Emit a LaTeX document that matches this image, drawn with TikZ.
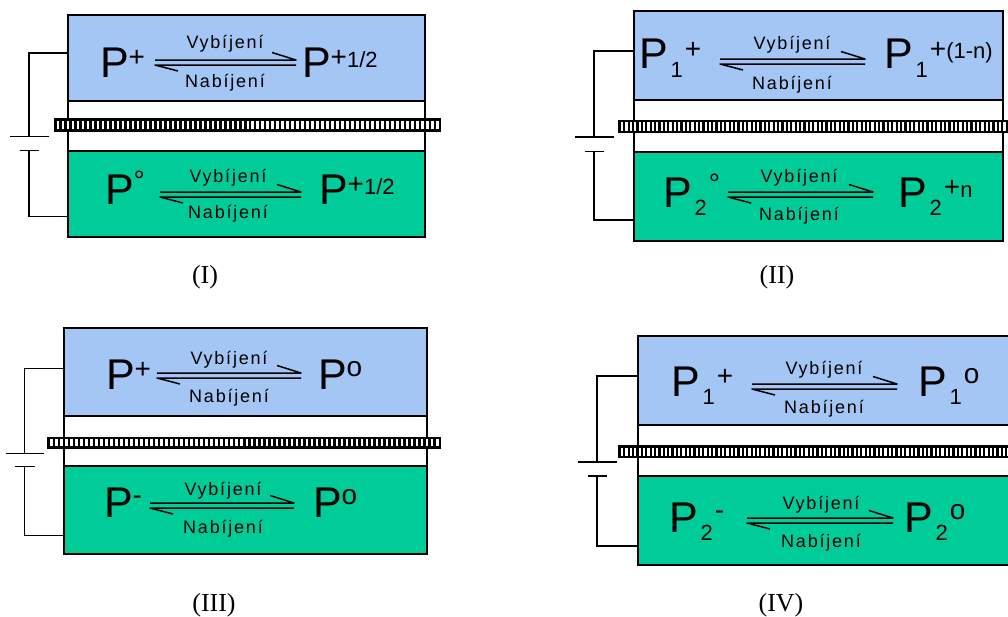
\documentclass[tikz,border=0pt]{standalone}
\usepackage{fontspec}
\setmainfont{Liberation Sans}
\newfontfamily\spacedfont[LetterSpace=10]{Liberation Sans}
\newfontfamily\capfont{Liberation Serif}
\definecolor{cellblue}{HTML}{A3C6F5}
\definecolor{cellgreen}{HTML}{00CC99}
\tikzset{
  cellbox/.style={draw=black,line width=1.6pt,inner sep=0pt,outer sep=0pt},
  wire/.style={draw=black,line width=1.5pt},
  symtext/.style={inner sep=0pt,outer sep=0pt,anchor=base west,font=\fontsize{43}{43}\selectfont},
  eqlabel/.style={inner sep=0pt,outer sep=0pt,anchor=base,font=\spacedfont\fontsize{18}{18}\selectfont},
  captext/.style={inner sep=0pt,outer sep=0pt,anchor=base,font=\capfont\fontsize{26}{26}\selectfont},
  eqline/.style={draw=black,line width=1.5pt,line join=round}
}
\newcommand{\Sp}[2][10.5]{\raisebox{#1pt}{\fontsize{28}{28}\selectfont #2}}
\newcommand{\Sq}[1]{\raisebox{10pt}{\fontsize{22}{22}\selectfont #1}}
\newcommand{\Sb}[1]{\kern3pt\raisebox{-8.5pt}{\fontsize{22}{22}\selectfont #1}\kern2pt}
% name, left, right, top, blue bottom, green top, bottom
\newcommand{\cellunit}[7]{%
  \node[cellbox,fill=white,minimum width={#3-#2},minimum height={#7-#4}] (#1mid) at ({(#2+#3)/2},{(#4+#7)/2}) {};
  \node[cellbox,fill=cellblue,minimum width={#3-#2},minimum height={#5-#4}] (#1top) at ({(#2+#3)/2},{(#4+#5)/2}) {};
  \node[cellbox,fill=cellgreen,minimum width={#3-#2},minimum height={#7-#6}] (#1bot) at ({(#2+#3)/2},{(#6+#7)/2}) {};
}
% name, x1, x2, y1, y2, pitch
\newcommand{\membrane}[6]{%
  \node[fill=black,inner sep=0pt,outer sep=0pt,minimum width={#3-#2},minimum height={#5-#4}] (#1mem) at ({(#2+#3)/2},{(#4+#5)/2}) {};
  \pgfmathsetmacro{\mcount}{int(round((#3-#2-5.5)/#6+0.5))}
  \pgfmathsetmacro{\mpitch}{(#3-#2-5.5)/(\mcount-0.5)}
  \pgfmathsetmacro{\mtop}{#4+2.5}
  \pgfmathsetmacro{\mbot}{#5-2.5}
  \foreach \mi in {1,...,\mcount}{
    \pgfmathsetmacro{\mx}{#2+3+(\mi-1)*\mpitch}
    \fill[white] (\mx,\mtop) rectangle ++(\mpitch/2,\mbot-\mtop);
  }
}
% name, wire x, box x, y upper, y lower, battery long y, short y, line width
\newcommand{\battery}[8]{%
  \coordinate (#1ua) at (#3,#4);
  \coordinate (#1ub) at (#2,#4);
  \coordinate (#1uc) at (#2,#6);
  \coordinate (#1la) at (#3,#5);
  \coordinate (#1lb) at (#2,#5);
  \coordinate (#1lc) at (#2,#7);
  \coordinate (#1p1) at ({#2-19},#6);
  \coordinate (#1p2) at ({#2+19.5},#6);
  \coordinate (#1n1) at ({#2-9.5},#7);
  \coordinate (#1n2) at ({#2+10},#7);
  \draw[wire,line width=#8pt] (#1ua) -- (#1ub) -- (#1uc);
  \draw[wire,line width=#8pt] (#1la) -- (#1lb) -- (#1lc);
  \draw[wire,line width=#8pt] (#1p1) -- (#1p2);
  \draw[wire,line width=#8pt] (#1n1) -- (#1n2);
}
% name, x1, x2, y of upper line, label centre x, vyb offset, nab offset
\newcommand{\eqarrows}[7]{%
  \coordinate (#1a) at (#2,#4);
  \coordinate (#1b) at (#3,#4);
  \coordinate (#1c) at (#2,{#4+5});
  \coordinate (#1d) at (#3,{#4+5});
  \coordinate (#1e) at ({#3-24},{#4-7.5});
  \coordinate (#1f) at ({#2+23},{#4+11});
  \draw[eqline] (#1a) -- (#1b) -- (#1e);
  \draw[eqline] (#1d) -- (#1c) -- (#1f);
  \node[eqlabel] (#1v) at (#5,{#4+#6}) {Vybíjení};
  \node[eqlabel] (#1n) at (#5,{#4+#7}) {Nabíjení};
}
\begin{document}
\begin{tikzpicture}[x=1pt,y=-1pt]
\useasboundingbox (0,0) rectangle (1008,616);
\clip (0,0) rectangle (1008,616);
% Panel I
\battery{A}{29}{68}{53}{216.5}{136.5}{150.5}{1.5}
\cellunit{A}{68}{425}{15}{101}{151}{237}
\membrane{A}{54}{441}{118.3}{131.7}{5}
\node[symtext] (A1) at (100,77) {P\Sp{+}};
\eqarrows{Ae}{155}{296}{60}{225}{-11.7}{27}
\node[symtext] (A2) at (302,77) {P\Sp{+}\Sq{1/2}};
\node[symtext] (A3) at (105,204) {P\Sp[14]{°}};
\eqarrows{Af}{160}{301}{192}{228}{-10}{26.5}
\node[symtext] (A4) at (319,204) {P\Sp{+}\Sq{1/2}};
\node[captext] (Acap) at (205,283) {(I)};
% Panel II
\battery{B}{594}{634}{51}{220}{137}{151.5}{1.5}
\cellunit{B}{634}{1003}{11}{100}{152}{241}
\membrane{B}{618}{1008}{119.5}{133}{4.4}
\node[symtext] (B1) at (639,68.5) {P\Sb{1}\Sp{+}};
\eqarrows{Be}{720}{865}{59}{792}{-9.7}{30}
\node[symtext] (B2) at (884,68.5) {P\Sb{1}\Sp{+}\Sq{(1-n)}};
\node[symtext] (B3) at (663,207) {P\Sb{2}\Sp[14]{°}};
\eqarrows{Bf}{728}{873}{192}{799}{-9.7}{28}
\node[symtext] (B4) at (898,207) {P\Sb{2}\Sp{+}\Sq{n}};
\node[captext] (Bcap) at (777,283) {(II)};
% Panel III
\battery{C}{24.5}{64}{368}{535}{453}{466.5}{0.9}
\cellunit{C}{64}{427}{328}{416}{466}{554}
\membrane{C}{47}{441}{436.5}{448.5}{5}
\node[symtext] (C1) at (106,389) {P\Sp{+}};
\eqarrows{Ce}{157}{301}{373}{229}{-9}{29}
\node[symtext] (C2) at (318,389) {P\Sp[12.5]{o}};
\node[symtext] (C3) at (104,517) {P\Sp[13]{-}};
\eqarrows{Cf}{150}{294}{503}{223}{-7.6}{30}
\node[symtext] (C4) at (313,517) {P\Sp[12.5]{o}};
\node[captext] (Ccap) at (214,611) {(III)};
% Panel IV
\battery{D}{597}{638}{376}{546}{462}{476}{1.5}
\cellunit{D}{638}{1012}{336}{425}{476}{565}
\membrane{D}{618}{1012}{445}{458}{4.4}
\node[symtext] (D1) at (671,396) {P\Sb{1}\Sp{+}};
\eqarrows{De}{752}{897}{384}{824}{-10}{29}
\node[symtext] (D2) at (918,396) {P\Sb{1}\Sp[12.5]{o}};
\node[symtext] (D3) at (669,532) {P\Sb{2}\Sp[13]{-}};
\eqarrows{Df}{747}{893}{518}{821}{-9}{29}
\node[symtext] (D4) at (904,532) {P\Sb{2}\Sp[12.5]{o}};
\node[captext] (Dcap) at (781,611) {(IV)};
\end{tikzpicture}
\end{document}
